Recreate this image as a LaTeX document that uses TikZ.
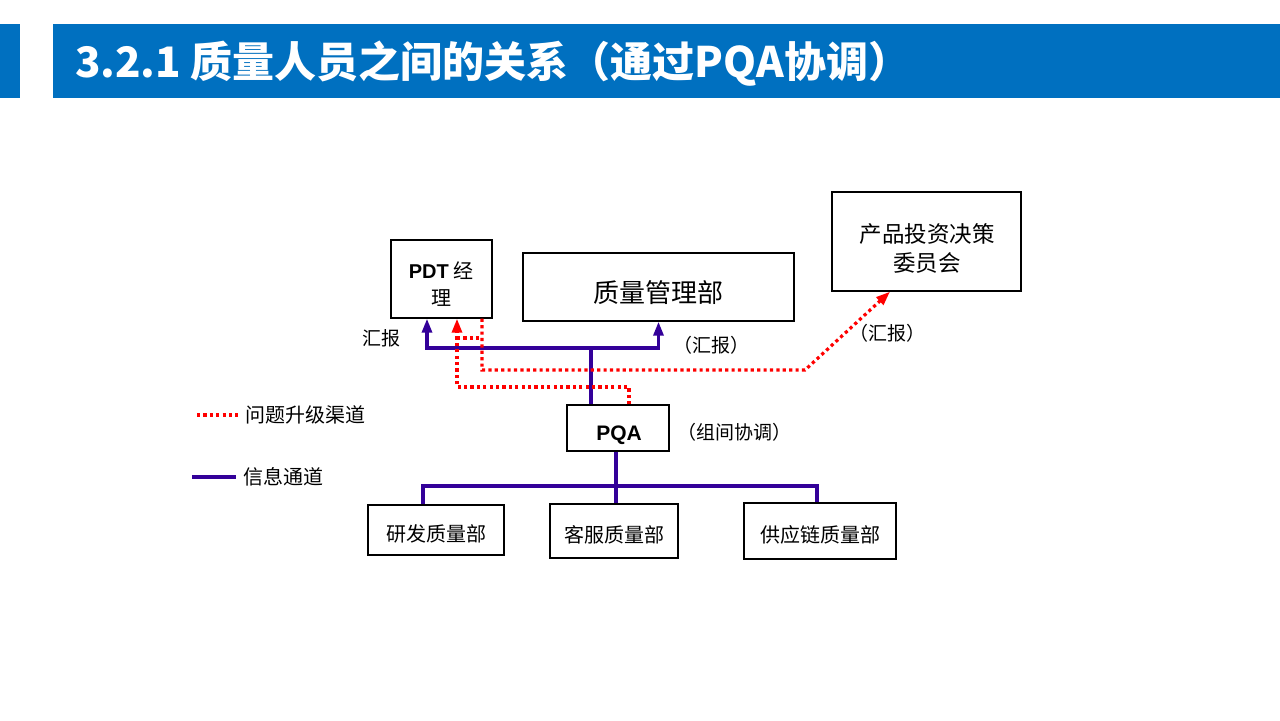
\documentclass[tikz,border=0pt]{standalone}
\usepackage{fontspec}
\setmainfont{Noto Sans CJK SC}
\setsansfont{Liberation Sans}
\usetikzlibrary{arrows.meta}
\definecolor{titleblue}{RGB}{0,112,192}
\definecolor{infoblue}{RGB}{51,0,153}
\newcommand{\fs}[1]{\fontsize{#1}{#1}\selectfont}

\begin{document}
\begin{tikzpicture}[x=0.5pt,y=-0.5pt,
  box/.style={draw,line width=0.7pt,inner sep=0pt},
  txt/.style={inner sep=0pt,align=center},
  info/.style={draw=infoblue,line width=1.6pt},
  esc/.style={draw=red,line width=1.6pt,dash pattern=on 1.6pt off 1.6pt},
  >={Triangle[width=5pt,length=7pt]}]
\useasboundingbox (0,0) rectangle (1280,720);
% title bar
\fill[titleblue] (0,24) rectangle (20,98);
\fill[titleblue] (53,24) rectangle (1280,98);
\node[anchor=west,text=white,font=\bfseries\fs{21}] (title) at (68,64)
  {3.2.1 质量人员之间的关系（通过PQA协调）};
% boxes
\node[box,minimum width=50.5pt,minimum height=39pt] (pdt) at (441.5,279) {};
\node[box,minimum width=135.5pt,minimum height=34pt] (qmd) at (658.5,287) {};
\node[box,minimum width=94.5pt,minimum height=49.5pt] (cmt) at (926.5,241.5) {};
\node[box,minimum width=51pt,minimum height=23pt] (pqa) at (618,428) {};
\node[box,minimum width=68pt,minimum height=25pt] (yf) at (436,530) {};
\node[box,minimum width=64pt,minimum height=27pt] (kf) at (614,531) {};
\node[box,minimum width=76pt,minimum height=28pt] (gy) at (820,531) {};
% box texts
\node[txt,font=\fontsize{10}{13.5}\selectfont] (pdtt) at (441,284) {{\sffamily\bfseries PDT} 经\\理};
\node[txt,font=\fs{13}] (qmdt) at (658,293) {质量管理部};
\node[txt,font=\fontsize{11.25}{14.5}\selectfont] (cmtt) at (927,248) {产品投资决策\\委员会};
\node[txt,font=\sffamily\bfseries\fs{10.5}] (pqat) at (619,435) {PQA};
\node[txt,font=\fs{10}] (yft) at (436,534) {研发质量部};
\node[txt,font=\fs{10}] (kft) at (614,535) {客服质量部};
\node[txt,font=\fs{10}] (gyt) at (820,535) {供应链质量部};
% labels
\node[font=\fs{9.5}] (hb1) at (381,338) {汇报};
\node[font=\fs{9.5}] (hb2) at (711,345) {（汇报）};
\node[font=\fs{9.5}] (hb3) at (887,333) {（汇报）};
\node[font=\fs{9.5}] (zj) at (734,432) {（组间协调）};
% guide points
\coordinate (g427) at (427,348);
\coordinate (jt) at (591,348);
\coordinate (g457) at (457,338);
\coordinate (g482) at (482,370);
\coordinate (r1) at (629,387);
\coordinate (rb) at (805,370);
\coordinate (ce) at (890,291);
\coordinate (jb) at (616,486);
\coordinate (g423) at (423,486);
\coordinate (g817) at (817,486);
% information channels
\draw[info] (pqa.north -| jt) -- (jt);
\draw[info,->] (jt) -| (pdt.south -| g427);
\draw[info,->] (jt) -| (qmd.south);
\draw[info] (pqa.south -| jb) -- (kf.north -| jb);
\draw[info] (yf.north -| g423) -- (g423) -- (g817) -- (gy.north -| g817);
% escalation channels
\draw[esc,->] (pqa.north -| r1) -- (r1) -| (pdt.south -| g457);
\draw[esc] (g457) -- (g482 |- g457);
\draw[esc,->] (pdt.south -| g482) -- (g482) -- (rb) -- (cmt.south -| ce);
% legend
\node[anchor=west,font=\fs{10}] (lg1) at (238,415) {问题升级渠道};
\node[anchor=west,font=\fs{10}] (lg2) at (236,477) {信息通道};
\coordinate (l1) at (197,415);
\coordinate (l2) at (192,477);
\draw[esc] (l1) -- (lg1.west);
\draw[info] (l2) -- (lg2.west);
\end{tikzpicture}
\end{document}
